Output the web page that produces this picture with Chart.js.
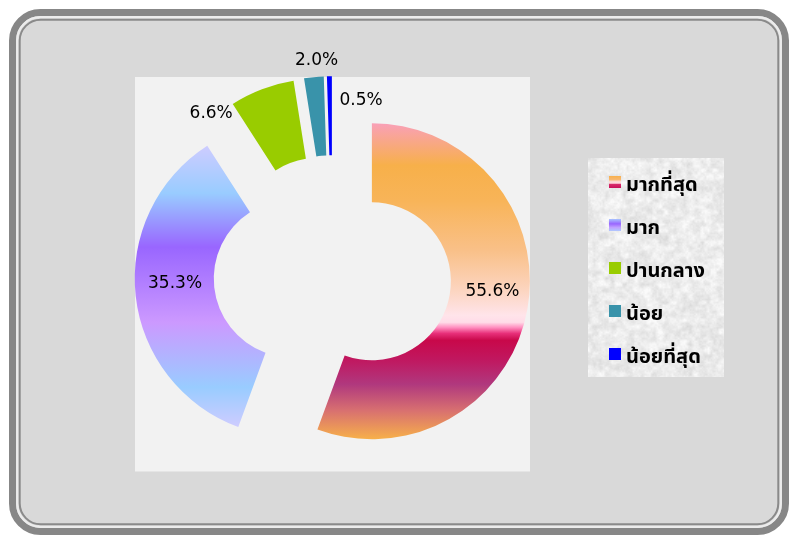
<!DOCTYPE html>
<html>
<head>
<meta charset="utf-8">
<script src="https://cdn.jsdelivr.net/npm/chart.js@4/dist/chart.umd.min.js"></script>
<style>
  html, body { margin: 0; padding: 0; background: #ffffff; }
  #wrap { position: relative; width: 797px; height: 536px; }
  canvas { display: block; }
</style>
</head>
<body>
<div id="wrap"><canvas id="c" width="797" height="536"></canvas></div>
<script>
// ---- data ----
const categories = ['มากที่สุด', 'มาก', 'ปานกลาง', 'น้อย', 'น้อยที่สุด'];
const percentValues = [55.6, 35.3, 6.6, 2.0, 0.5];

// ---- styles ----
const RADIUS = 158;
const EXPLODE = 40;
const solidColors = [null, null, '#99cc00', '#3993aa', '#0000ff'];
const orangeStops = [
  [0.0, '#f9a0b8'], [0.133, '#f7b04a'], [0.244, '#f8b458'], [0.402, '#f9c088'],
  [0.529, '#fcd5c0'], [0.608, '#ffe4ea'], [0.630, '#ffdce8'], [0.646, '#ff90c0'],
  [0.665, '#e8307a'], [0.687, '#c8084a'], [0.750, '#c01860'], [0.826, '#b0387e'],
  [0.909, '#d87070'], [1.0, '#f7b04a']
];
const purpleStops = [
  [0.0, '#ccccff'], [0.084, '#ccccff'], [0.23, '#99ccff'], [0.40, '#9966ff'],
  [0.638, '#cc99ff'], [0.844, '#99ccff'], [0.964, '#ccccff'], [1.0, '#ccccff']
];
const legendOrangeStops = [[0, '#f8b04c'], [0.3, '#f8b870'], [0.45, '#fcd8d0'], [0.6, '#ffd8e0'], [0.7, '#d82a6a'], [1, '#c8105a']];
const legendPurpleStops = [[0, '#a8c4ff'], [0.4, '#9966ff'], [0.7, '#c0a0ff'], [1, '#b0c8ff']];
// label placement relative to each exploded slice: [angle shift (deg), radius]
const labelPolar = [[-5.3, 121], [4.1, 117.8], [-20, 163.6], [1.4, 173.9], [13.2, 137.1]];

const PLOT_BOX = {left: 135, top: 77, right: 530, bottom: 471.5};
const LEGEND_BOX = {left: 588, top: 158, right: 724, bottom: 377};
const LEGEND_FONT_SIZE = 20;
const LEGEND_LINE = 43;
const LEGEND_PAD = LEGEND_LINE - LEGEND_FONT_SIZE;
const LEGEND_TEXT_MID0 = 187;   // vertical middle of first legend text
const LEGEND_ITEM_X = 608;
const MARKER_W = 24, MARKER_H = 22, MARKER_SQ = 12, MARKER_SQ_X = 9;

function makeGrad(ctx, y0, y1, stops) {
  const g = ctx.createLinearGradient(0, y0, 0, y1);
  stops.forEach(s => g.addColorStop(s[0], s[1]));
  return g;
}

function sliceColor(c) {
  const i = c.dataIndex;
  if (solidColors[i]) return solidColors[i];
  const cy = (PLOT_BOX.top + PLOT_BOX.bottom) / 2;
  return makeGrad(c.chart.ctx, cy - RADIUS, cy + RADIUS, i === 0 ? orangeStops : purpleStops);
}

// legend marker images (square sits in the top part so it lines up with the text)
function makeMarker(i) {
  const cv = document.createElement('canvas');
  cv.width = MARKER_W; cv.height = MARKER_H;
  const cx = cv.getContext('2d');
  let fill = solidColors[i];
  if (i === 0) fill = makeGrad(cx, 0, MARKER_SQ, legendOrangeStops);
  if (i === 1) fill = makeGrad(cx, 0, MARKER_SQ, legendPurpleStops);
  cx.fillStyle = fill;
  cx.fillRect(MARKER_SQ_X, 0, MARKER_SQ, MARKER_SQ);
  return cv;
}

// deterministic texture for legend background
let texture = null;
function buildTexture(w, h) {
  const cv = document.createElement('canvas');
  cv.width = w; cv.height = h;
  const cx = cv.getContext('2d');
  const img = cx.createImageData(w, h);
  const hs = (x, y) => { const s = Math.sin(x * 127.1 + y * 311.7) * 43758.5453; return s - Math.floor(s); };
  const vn = (x, y) => {
    const xi = Math.floor(x), yi = Math.floor(y), xf = x - xi, yf = y - yi;
    const u = xf * xf * (3 - 2 * xf), v = yf * yf * (3 - 2 * yf);
    const a = hs(xi, yi), b = hs(xi + 1, yi), c = hs(xi, yi + 1), d = hs(xi + 1, yi + 1);
    return a + (b - a) * u + (c - a) * v + (a - b - c + d) * u * v;
  };
  for (let y = 0; y < h; y++) {
    for (let x = 0; x < w; x++) {
      const val = 0.5 * vn(x / 6, y / 6) + 0.3 * vn(x / 3 + 17, y / 3 + 5) + 0.2 * vn(x / 1.5 + 3, y / 1.5 + 11);
      let g = 214 + 44 * val;
      if (g > 250) g = 250;
      const k = (y * w + x) * 4;
      img.data[k] = g; img.data[k + 1] = g; img.data[k + 2] = g; img.data[k + 3] = 255;
    }
  }
  cx.putImageData(img, 0, 0);
  return cv;
}

function roundRect(ctx, x, y, w, h, r) {
  ctx.beginPath();
  ctx.moveTo(x + r, y);
  ctx.lineTo(x + w - r, y);
  ctx.arcTo(x + w, y, x + w, y + r, r);
  ctx.lineTo(x + w, y + h - r);
  ctx.arcTo(x + w, y + h, x + w - r, y + h, r);
  ctx.lineTo(x + r, y + h);
  ctx.arcTo(x, y + h, x, y + h - r, r);
  ctx.lineTo(x, y + r);
  ctx.arcTo(x, y, x + r, y, r);
  ctx.closePath();
}

const framePlugin = {
  id: 'frame',
  afterLayout(chart) {
    chart.chartArea = {
      left: PLOT_BOX.left, top: PLOT_BOX.top, right: PLOT_BOX.right, bottom: PLOT_BOX.bottom,
      width: PLOT_BOX.right - PLOT_BOX.left, height: PLOT_BOX.bottom - PLOT_BOX.top
    };
    const lg = chart.legend;
    if (lg) {
      lg.left = LEGEND_ITEM_X - LEGEND_PAD;
      lg.top = LEGEND_TEXT_MID0 - LEGEND_FONT_SIZE / 2 - LEGEND_PAD;
      lg.right = 724; lg.bottom = 420;
      lg.width = lg.right - lg.left; lg.height = lg.bottom - lg.top;
    }
  },
  beforeDraw(chart) {
    const ctx = chart.ctx;
    ctx.save();
    ctx.fillStyle = '#ffffff';
    ctx.fillRect(0, 0, chart.width, chart.height);
    // outer frame
    roundRect(ctx, 12.5, 12.5, 773, 519, 28);
    ctx.fillStyle = '#d9d9d9';
    ctx.fill();
    ctx.lineWidth = 7;
    ctx.strokeStyle = '#878787';
    ctx.stroke();
    roundRect(ctx, 17.2, 17.2, 763.6, 509.6, 23);
    ctx.lineWidth = 2.2;
    ctx.strokeStyle = '#ececec';
    ctx.stroke();
    roundRect(ctx, 19.7, 19.7, 758.6, 504.6, 21);
    ctx.lineWidth = 2;
    ctx.strokeStyle = '#8a8a8a';
    ctx.stroke();
    // plot box
    ctx.fillStyle = '#f2f2f2';
    ctx.fillRect(PLOT_BOX.left, PLOT_BOX.top, PLOT_BOX.right - PLOT_BOX.left, PLOT_BOX.bottom - PLOT_BOX.top);
    // legend box
    const lw = LEGEND_BOX.right - LEGEND_BOX.left, lh = LEGEND_BOX.bottom - LEGEND_BOX.top;
    if (!texture) texture = buildTexture(lw, lh);
    ctx.drawImage(texture, LEGEND_BOX.left, LEGEND_BOX.top);
    ctx.restore();
  },
  beforeDatasetDraw(chart, args) {
    const ctx = chart.ctx;
    args.meta.data.forEach((arc) => {
      const mid = (arc.startAngle + arc.endAngle) / 2;
      ctx.save();
      ctx.translate(Math.cos(mid) * EXPLODE, Math.sin(mid) * EXPLODE);
      arc.draw(ctx);
      ctx.restore();
    });
    return false;
  },
  afterDraw(chart) {
    const ctx = chart.ctx;
    const meta = chart.getDatasetMeta(0);
    ctx.save();
    ctx.font = '17px "DejaVu Sans", Verdana, sans-serif';
    ctx.fillStyle = '#000000';
    ctx.textAlign = 'center';
    ctx.textBaseline = 'middle';
    meta.data.forEach((arc, i) => {
      const mid = (arc.startAngle + arc.endAngle) / 2;
      const cx = arc.x + Math.cos(mid) * EXPLODE;
      const cy = arc.y + Math.sin(mid) * EXPLODE;
      const a = mid + labelPolar[i][0] * Math.PI / 180;
      const r = labelPolar[i][1];
      ctx.fillText(percentValues[i].toFixed(1) + '%', cx + Math.cos(a) * r, cy + Math.sin(a) * r);
    });
    ctx.restore();
  }
};

const markers = categories.map((_, i) => makeMarker(i));

new Chart(document.getElementById('c'), {
  type: 'doughnut',
  data: {
    labels: categories,
    datasets: [{
      data: percentValues,
      backgroundColor: sliceColor,
      borderWidth: 0,
      offset: 0,
      hoverOffset: 0,
      radius: RADIUS,
      cutout: '50%'
    }]
  },
  options: {
    responsive: false,
    animation: false,
    events: [],
    layout: { padding: { left: 135, top: 77, bottom: 65, right: 60 } },
    plugins: {
      tooltip: { enabled: false },
      legend: {
        display: true,
        position: 'right',
        align: 'start',
        labels: {
          usePointStyle: true,
          boxWidth: 8,
          boxHeight: 12,
          padding: LEGEND_PAD,
          color: '#000000',
          font: { size: LEGEND_FONT_SIZE, weight: 'bold', family: 'Tahoma, "Noto Sans Thai", Loma, "DejaVu Sans", sans-serif' },
          generateLabels(chart) {
            return categories.map((t, i) => ({
              text: t,
              fillStyle: solidColors[i] || '#f7b04a',
              strokeStyle: 'rgba(0,0,0,0)',
              lineWidth: 0,
              pointStyle: markers[i],
              hidden: false,
              index: i,
              fontColor: '#000000'
            }));
          }
        }
      }
    }
  },
  plugins: [framePlugin]
});
</script>
</body>
</html>
